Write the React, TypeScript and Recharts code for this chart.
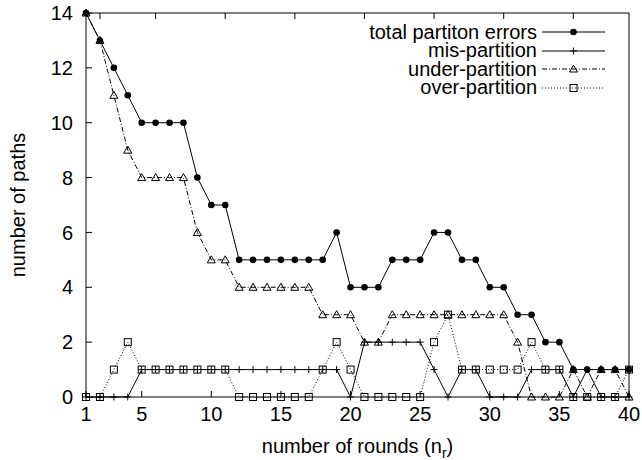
import React from 'react';
import { LineChart, Line, XAxis, YAxis, Legend } from 'recharts';

const FONT = '"Liberation Sans", Arial, Helvetica, sans-serif';

// rounds n_r = 1..40
const rounds = [
  1, 2, 3, 4, 5, 6, 7, 8, 9, 10, 11, 12, 13, 14, 15, 16, 17, 18, 19, 20,
  21, 22, 23, 24, 25, 26, 27, 28, 29, 30, 31, 32, 33, 34, 35, 36, 37, 38, 39, 40,
];

const totalErrors = [
  14, 13, 12, 11, 10, 10, 10, 10, 8, 7, 7, 5, 5, 5, 5, 5, 5, 5, 6, 4,
  4, 4, 5, 5, 5, 6, 6, 5, 5, 4, 4, 3, 3, 2, 2, 1, 1, 1, 1, 1,
];
const misPartition = [
  0, 0, 0, 0, 1, 1, 1, 1, 1, 1, 1, 1, 1, 1, 1, 1, 1, 1, 1, 0,
  2, 2, 2, 2, 2, 1, 0, 1, 1, 0, 0, 0, 1, 1, 1, 0, 1, 0, 0, 0,
];
const underPartition = [
  14, 13, 11, 9, 8, 8, 8, 8, 6, 5, 5, 4, 4, 4, 4, 4, 4, 3, 3, 3,
  2, 2, 3, 3, 3, 3, 3, 3, 3, 3, 3, 2, 0, 0, 0, 1, 0, 1, 1, 0,
];
const overPartition = [
  0, 0, 1, 2, 1, 1, 1, 1, 1, 1, 1, 0, 0, 0, 0, 0, 0, 1, 2, 1,
  0, 0, 0, 0, 0, 2, 3, 1, 1, 1, 1, 1, 2, 1, 1, 0, 0, 0, 0, 1,
];

const xTicks = [1, 5, 10, 15, 20, 25, 30, 35, 40];
const yTicks = [0, 2, 4, 6, 8, 10, 12, 14];

const data = rounds.map((r, i) => ({
  round: r,
  total: totalErrors[i],
  mis: misPartition[i],
  under: underPartition[i],
  over: overPartition[i],
}));

type Marker = 'circle' | 'plus' | 'triangle' | 'square';

const drawMarker = (kind: Marker, cx: number, cy: number, key?: React.Key) => {
  switch (kind) {
    case 'circle':
      return <circle key={key} cx={cx} cy={cy} r={3.3} fill="#000" />;
    case 'plus':
      return (
        <path key={key} d={`M${cx - 3.5},${cy}h7M${cx},${cy - 3.5}v7`} stroke="#000" strokeWidth={1} fill="none" />
      );
    case 'triangle':
      return (
        <path
          key={key}
          d={`M${cx},${cy - 4}L${cx + 4},${cy + 3}L${cx - 4},${cy + 3}Z`}
          stroke="#000"
          strokeWidth={1}
          fill="none"
        />
      );
    default:
      return (
        <rect key={key} x={cx - 3.5} y={cy - 3.5} width={7} height={7} stroke="#000" strokeWidth={1} fill="none" />
      );
  }
};

const series: { key: string; name: string; marker: Marker; dash?: string }[] = [
  { key: 'total', name: 'total partiton errors', marker: 'circle' },
  { key: 'mis', name: 'mis-partition', marker: 'plus' },
  { key: 'under', name: 'under-partition', marker: 'triangle', dash: '5 2 1 2' },
  { key: 'over', name: 'over-partition', marker: 'square', dash: '1 2' },
];

const renderLegend = () => (
  <div style={{ fontFamily: FONT, fontSize: 20, color: '#000' }}>
    {series.map((s) => (
      <div
        key={s.key}
        style={{ display: 'flex', justifyContent: 'flex-end', alignItems: 'center', height: 18.5 }}
      >
        <span style={{ lineHeight: '18.5px', whiteSpace: 'nowrap' }}>{s.name}</span>
        <svg width={63} height={18} style={{ marginLeft: 5, display: 'block' }}>
          <line x1={0} x2={63} y1={9} y2={9} stroke="#000" strokeWidth={1} strokeDasharray={s.dash} />
          {drawMarker(s.marker, 31.5, 9)}
        </svg>
      </div>
    ))}
  </div>
);

const tickStyle = { fontSize: 20, fill: '#000', fontFamily: FONT };
const noLabel = () => <g />;

const XTitle = (props: any) => {
  const vb = props.viewBox || { x: 86, y: 397, width: 543 };
  return (
    <text x={vb.x + vb.width / 2} y={vb.y + 56} textAnchor="middle" fontSize={20} fontFamily={FONT} fill="#000">
      number of rounds (n
      <tspan fontSize={14} dy={5}>r</tspan>
      <tspan dy={-5}>)</tspan>
    </text>
  );
};

const YTitle = (props: any) => {
  const vb = props.viewBox || { x: 0, y: 13, height: 384 };
  const cy = vb.y + vb.height / 2;
  return (
    <text
      x={25}
      y={cy}
      transform={`rotate(-90, 25, ${cy})`}
      textAnchor="middle"
      fontSize={20}
      fontFamily={FONT}
      fill="#000"
    >
      number of paths
    </text>
  );
};

export default function App() {
  return (
    <div style={{ width: 642, height: 460, background: '#fff', position: 'relative' }}>
      <style>{'body{margin:0;background:#fff}'}</style>
      <LineChart width={642} height={460} data={data} margin={{ top: 12, right: 12, bottom: 0, left: 0 }}>
        <XAxis
          dataKey="round"
          type="number"
          domain={[1, 40]}
          ticks={xTicks}
          interval={0}
          height={63}
          axisLine={{ stroke: '#000' }}
          tickLine={{ stroke: '#000' }}
          tickSize={-6}
          tickMargin={16}
          tick={tickStyle}
          label={{ content: XTitle }}
        />
        <XAxis
          xAxisId="top"
          orientation="top"
          type="number"
          domain={[1, 40]}
          ticks={xTicks}
          interval={0}
          height={1}
          axisLine={{ stroke: '#000' }}
          tickLine={{ stroke: '#000' }}
          tickSize={-6}
          tick={noLabel}
        />
        <YAxis
          type="number"
          domain={[0, 14]}
          ticks={yTicks}
          interval={0}
          width={86}
          axisLine={{ stroke: '#000' }}
          tickLine={{ stroke: '#000' }}
          tickSize={-6}
          tickMargin={19}
          tick={tickStyle}
          label={{ content: YTitle }}
        />
        <YAxis
          yAxisId="right"
          orientation="right"
          type="number"
          domain={[0, 14]}
          ticks={yTicks}
          interval={0}
          width={1}
          axisLine={{ stroke: '#000' }}
          tickLine={{ stroke: '#000' }}
          tickSize={-6}
          tick={noLabel}
        />
        <Legend
          layout="vertical"
          align="center"
          verticalAlign="middle"
          content={renderLegend}
          wrapperStyle={{ top: 22.75, left: 305, width: 300 }}
        />
        {series.map((s) => (
          <Line
            key={s.key}
            dataKey={s.key}
            name={s.name}
            type="linear"
            stroke="#000"
            strokeWidth={1}
            strokeDasharray={s.dash}
            dot={(p: any) => drawMarker(s.marker, p.cx, p.cy, `${s.key}-${p.index}`)}
            activeDot={false}
            isAnimationActive={false}
          />
        ))}
      </LineChart>
    </div>
  );
}
